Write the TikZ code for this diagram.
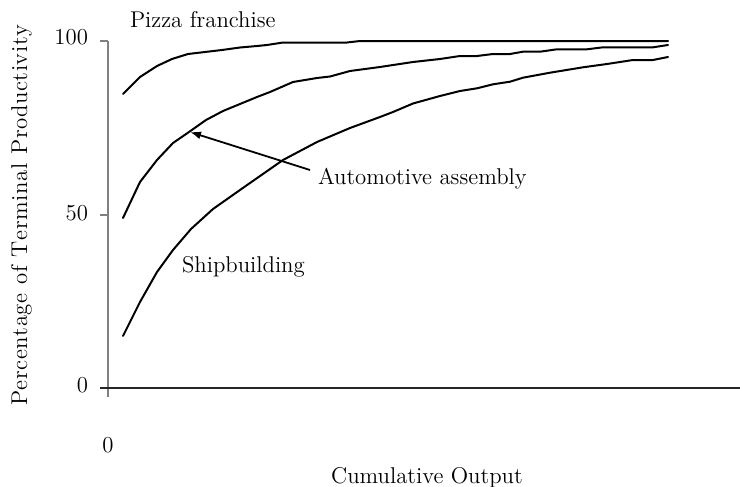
\documentclass[tikz,border=0pt]{standalone}
\usepackage{fontspec}
\usetikzlibrary{arrows.meta}
\def\lsp#1{\lspx#1\relax}
\def\lspx#1{\ifx#1\relax\else#1\kern0.31pt\expandafter\lspx\fi}
\begin{document}
\begin{tikzpicture}[x=0.5pt,y=-0.5pt,
  every node/.style={inner sep=0pt, outer sep=0pt, font=\fontsize{11.4}{13.5}\selectfont},
  curve/.style={line width=1pt, line join=round, line cap=round},
  axisg/.style={draw=black!50, line width=0.9pt},
  axisk/.style={draw=black!85, line width=0.6pt},
  lbl/.style={anchor=base west},
  tick/.style={anchor=base east}]
\useasboundingbox (0,0) rectangle (740,487);

% axes
\coordinate (ytop) at (108,41);
\coordinate (ybot) at (108,397);
\coordinate (xleft) at (100,388);
\coordinate (xright) at (740,388);
\coordinate (t100) at (100,41);
\coordinate (t50a) at (100,215);
\coordinate (t50b) at (108,215);
\draw[axisg] (ytop) -- (ybot);
\draw[axisg] (t100) -- (ytop);
\draw[axisg] (t50a) -- (t50b);
\draw[axisk] (xleft) -- (xright);

% tick labels
\node[tick] (l100) at (88,45) {100};
\node[tick] (l50) at (88,220) {50};
\node[tick] (l0) at (88,392) {0};
\node[anchor=base] (x0) at (108,452) {0};

% axis titles
\node[anchor=base] (xlab) at (427,483) {Cumulative Output};
\node[rotate=90, anchor=base] (ylab) at (27,215)
  {\lsp{Percentage}\hspace{4.1pt}\lsp{of}\hspace{4.1pt}\lsp{Terminal}\hspace{4.1pt}\lsp{Productivity}};

% curves
\draw[curve] (123,94) -- (140,77) -- (157,66) -- (172,59) -- (188,54) -- (205,52)
  -- (222,50) -- (240,47.5) -- (257,46) -- (267,45) -- (283,42.5) -- (347,42.5)
  -- (360,41) -- (668,41);
\draw[curve] (123,218) -- (140,182) -- (157,160) -- (173,143) -- (189,132) -- (206,120)
  -- (223,111) -- (240,104) -- (257,97) -- (270,92) -- (293,82) -- (317,78)
  -- (330,76.5) -- (350,71) -- (380,67) -- (413,62) -- (440,59) -- (460,56)
  -- (477,56) -- (493,54) -- (510,54) -- (523,51.7) -- (540,51.7) -- (557,49.3)
  -- (587,49.3) -- (603,47.3) -- (653,47.3) -- (668,45);
\draw[curve] (123,336) -- (140,302) -- (157,272) -- (173,250) -- (191,229) -- (213,209)
  -- (240,190) -- (250,183) -- (283,160) -- (317,142) -- (350,128) -- (380,117)
  -- (393,112) -- (413,103.5) -- (440,96) -- (460,91) -- (477,88.3) -- (493,84.3)
  -- (510,81.7) -- (523,77.7) -- (550,72.7) -- (583,67.3) -- (607,64) -- (633,60)
  -- (653,60) -- (668,57);

% labels
\node[lbl] (pizza) at (130,27) {Pizza franchise};
\node[lbl] (auto) at (318,184) {Automotive assembly};
\node[lbl] (ship) at (182,272) {Shipbuilding};

% arrow
\coordinate (atail) at (310,170);
\coordinate (atip) at (190,132);
\draw[line width=0.9pt, -{Latex[length=5.5pt,width=4pt]}] (atail) -- (atip);
\end{tikzpicture}
\end{document}
